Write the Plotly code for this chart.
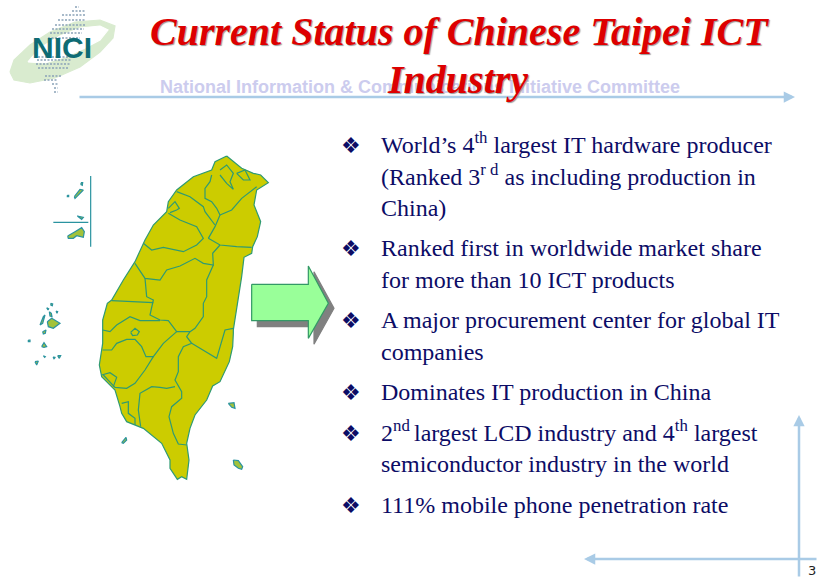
import plotly.graph_objects as go

title_lines = ["Current Status of Chinese Taipei ICT", "Industry"]
subtitle = "National Information &amp; Communications Initiative Committee"
logo_text = "NICI"
page_number = "3"

bullet_lines = [
    ["World’s 4<sup>th</sup> largest IT hardware producer",
     "(Ranked 3<sup>r d</sup> as including production in",
     "China)"],
    ["Ranked first in worldwide market share",
     "for more than 10 ICT products"],
    ["A major procurement center for global IT",
     "companies"],
    ["Dominates IT production in China"],
    ["2<sup>nd </sup>largest LCD industry and 4<sup>th</sup> largest",
     "semiconductor industry in the world"],
    ["111% mobile phone penetration rate"],
]
bullet_y = [
    [143, 175, 208],
    [248, 280],
    [320, 352],
    [392],
    [431, 464],
    [505],
]

# logo, in page pixels
logo_outer_x = [10, 14, 30, 50, 75, 100, 115, 113, 100, 80, 55, 30, 14]
logo_outer_y = [72, 60, 45, 32, 22, 20, 26, 38, 52, 67, 78, 83, 80]
logo_inner_x = [28, 40, 60, 80, 100, 108, 100, 85, 65, 45]
logo_inner_y = [62, 48, 36, 28, 26, 30, 40, 48, 57, 63]
logo_row_y = [7, 11, 15, 20, 25, 29, 33, 38, 57, 60, 64, 68, 76, 80, 84, 88, 92]
logo_row_x0 = [75, 72, 62, 58, 55, 52, 50, 48, 38, 37, 36, 38, 45, 44, 52, 54, 54]
logo_row_x1 = [79, 85, 86, 85, 86, 84, 82, 80, 75, 72, 70, 68, 62, 58, 58, 58, 58]

# the map is traced in its own units, see xaxis2 / yaxis2
island_x = [620, 640, 665, 700, 722, 745, 710, 702, 722, 712, 698, 695, 672, 665, 650,
            640, 640, 638, 628, 600, 578, 560, 525, 510, 500, 507, 500, 485, 472, 450,
            450, 425, 370, 345, 320, 305, 300, 285, 245, 238, 248, 248, 262, 275, 310,
            345, 375, 400, 440, 445, 470, 520, 575, 585]
island_y = [48, 65, 85, 100, 105, 128, 150, 195, 245, 290, 320, 340, 352, 410, 500,
            570, 580, 620, 665, 725, 738, 780, 825, 865, 910, 960, 1018, 1010, 1018, 985,
            960, 910, 865, 855, 845, 820, 800, 750, 710, 675, 610, 540, 490, 480, 420,
            365, 300, 255, 215, 185, 150, 110, 90, 65]

county_borders = [
    ([575, 570, 555, 555, 575, 590, 600, 585, 565],
     [105, 125, 145, 175, 185, 205, 225, 260, 295]),
    ([470, 510, 550, 555, 585], [155, 170, 200, 215, 255]),
    ([445, 480, 530, 550, 530, 490, 430, 395, 370],
     [220, 240, 260, 295, 315, 335, 322, 330, 310]),
    ([600, 635, 665, 710], [225, 210, 175, 140]),
    ([565, 600, 650, 695], [295, 315, 320, 322]),
    ([600, 578, 580, 550, 525, 480, 440, 420, 375, 345],
     [315, 340, 375, 370, 355, 378, 390, 420, 415, 370]),
    ([580, 560, 560, 550, 550, 525, 510],
     [375, 420, 470, 490, 530, 565, 575]),
    ([375, 380, 400, 390, 420, 445, 470, 510],
     [415, 470, 480, 525, 540, 542, 575, 575]),
    ([275, 340, 400], [482, 485, 488]),
    ([248, 270, 290, 330, 360, 420], [570, 575, 555, 530, 542, 542]),
    ([248, 275, 290, 320, 345, 365, 378, 400, 430, 470],
     [630, 630, 610, 598, 598, 620, 650, 650, 610, 575]),
    ([510, 500, 515, 490, 475, 475, 465, 485, 485, 455, 447, 460, 475, 500],
     [575, 590, 610, 620, 650, 695, 720, 755, 775, 800, 830, 880, 912, 915]),
    ([515, 590, 615, 640], [610, 655, 570, 565]),
    ([400, 375, 345, 320, 285, 250], [650, 690, 730, 745, 742, 705]),
    ([245, 270, 290, 280], [705, 698, 712, 740]),
    ([465, 440, 420, 395, 360, 355, 362], [740, 745, 742, 740, 760, 810, 860]),
    ([305, 325, 325, 345, 345], [790, 785, 820, 835, 855]),
    # Taipei city, Keelung, Chiayi
    ([600, 620, 640, 630, 640, 620, 600], [90, 75, 100, 125, 148, 130, 105]),
    ([650, 675, 690, 670, 650], [100, 90, 120, 120, 100]),
    ([332, 345, 358, 352, 338, 332], [577, 565, 575, 585, 587, 577]),
    ([445, 465, 478, 470, 450], [205, 185, 205, 210, 218]),
]

small_islands = [
    # Matsu
    ([163, 172, 180, 190, 178, 165], [170, 158, 148, 150, 162, 175]),
    ([183, 188, 187, 183], [128, 128, 136, 134]),
    ([142, 146, 146, 142], [166, 166, 170, 170]),
    # Wuqiu
    ([172, 190, 185], [228, 232, 238]),
    # Kinmen
    ([143, 155, 165, 185, 193, 190, 170, 160, 145], [288, 280, 275, 263, 275, 292, 287, 295, 295]),
    # Penghu
    ([82, 95, 120, 100, 85], [545, 535, 550, 565, 560]),
    ([60, 70, 75, 68], [555, 530, 525, 550]),
    ([92, 98, 97, 93], [490, 492, 497, 496]),
    ([80, 86, 84], [503, 506, 510]),
    ([108, 113, 111], [513, 515, 520]),
    ([88, 94, 96, 90], [515, 520, 530, 528]),
    ([68, 78, 76, 70], [575, 570, 580, 582]),
    ([25, 30, 30, 25], [600, 600, 605, 605]),
    ([65, 72, 80, 72], [620, 608, 620, 622]),
    ([45, 55, 50], [665, 663, 675]),
    ([113, 122, 118], [647, 647, 655]),
    ([99, 106, 102], [651, 652, 656]),
    ([70, 76, 74], [647, 650, 652]),
    # Xiaoliuqiu, Green Island, Orchid Island
    ([305, 318, 320, 310], [908, 892, 900, 910]),
    ([625, 642, 645, 635], [790, 788, 805, 802]),
    ([640, 655, 668, 665, 655, 642], [960, 962, 980, 988, 985, 975]),
]

divider_x = [[212, 212], [100, 205]]
divider_y = [[108, 320], [247, 247]]

arrow_x = [695, 865, 865, 925, 865, 865, 695]
arrow_y = [433, 433, 378, 490, 595, 542, 542]
shadow_x = [712, 882, 882, 942, 882, 882, 712]
shadow_y = [450, 450, 395, 505, 613, 560, 560]

NAVY = "#0c0c66"
SERIF = "Liberation Serif"
RULE = "#a9cbe6"
BORDER = "#2f9a72"

fig = go.Figure()


def poly(x, y, fill, line=None, width=1.2, axes="x2"):
    fig.add_trace(
        go.Scatter(
            x=x + x[:1],
            y=y + y[:1],
            mode="lines",
            fill="toself",
            fillcolor=fill,
            line=dict(color=line or fill, width=width),
            hoverinfo="skip",
            xaxis=axes,
            yaxis=axes.replace("x", "y"),
        )
    )


# logo
poly(logo_outer_x, logo_outer_y, "#d9ebcf", axes="x")
poly(logo_inner_x, logo_inner_y, "#ffffff", axes="x")
row_x, row_y = [], []
for y, x0, x1 in zip(logo_row_y, logo_row_x0, logo_row_x1):
    row_x += [x0, x1, None]
    row_y += [y, y, None]
fig.add_trace(
    go.Scatter(x=row_x, y=row_y, mode="lines", hoverinfo="skip",
               line=dict(color="#8aa3b8", width=1.6, dash="2px,1.5px"))
)

# map
poly(island_x, island_y, "#cccc00", BORDER)
for bx, by in county_borders:
    fig.add_trace(
        go.Scatter(x=bx, y=by, mode="lines", hoverinfo="skip",
                   line=dict(color=BORDER, width=1.2), xaxis="x2", yaxis="y2")
    )
for ix, iy in small_islands:
    poly(ix, iy, "#a3c23a", "#2a93a0")
for dx, dy in zip(divider_x, divider_y):
    fig.add_trace(
        go.Scatter(x=dx, y=dy, mode="lines", hoverinfo="skip",
                   line=dict(color="#2a93a0", width=1.2), xaxis="x2", yaxis="y2")
    )

# block arrow
poly(shadow_x, shadow_y, "#808080", axes="x2")
poly(arrow_x, arrow_y, "#99ff99", "#339966")

# rules around the page
for x, y, ax, ay in [(795, 97, 78, 97), (799, 415, 799, 578), (584, 559, 818, 559)]:
    fig.add_annotation(
        x=x, y=y, ax=ax, ay=ay, xref="x", yref="y", axref="x", ayref="y",
        text="", showarrow=True, arrowhead=2, arrowsize=0.9, arrowwidth=2.5, arrowcolor=RULE,
    )


def label(x, y, text, size, color, family=SERIF, xanchor="left"):
    fig.add_annotation(
        x=x, y=y, xref="x", yref="y", text=text, showarrow=False,
        xanchor=xanchor, yanchor="middle", align="left",
        font=dict(family=family, size=size, color=color),
    )


label(62, 47, f"<b>{logo_text}</b>", 30, "#0e6b74", "Liberation Sans", "center")
label(420, 87, f"<b>{subtitle}</b>", 18, "#ccccee", "Liberation Sans", "center")
for line, x, y in zip(title_lines, [459, 457], [31, 79]):
    fig.add_annotation(
        x=x, y=y, xref="x", yref="y", text=f"<b><i>{line}</i></b>",
        showarrow=False, xanchor="center", yanchor="middle",
        font=dict(family=SERIF, size=40, color="#dd0000", shadow="1px 1px 1px #999999"),
    )

for lines, ys in zip(bullet_lines, bullet_y):
    label(339, ys[0] + (2 if "<sup>" in lines[0] else 0), "❖", 22, NAVY, "DejaVu Sans")
    for line, y in zip(lines, ys):
        label(379, y, line, 24, NAVY)

label(812, 570, page_number, 13, "#222222", "DejaVu Sans", "center")

fig.update_layout(
    width=825,
    height=585,
    margin=dict(l=0, r=0, t=0, b=0),
    paper_bgcolor="white",
    plot_bgcolor="white",
    showlegend=False,
    xaxis=dict(range=[0, 825], visible=False, fixedrange=True),
    yaxis=dict(range=[585, 0], visible=False, fixedrange=True),
    xaxis2=dict(range=[-60, 2415], visible=False, overlaying="x", fixedrange=True),
    yaxis2=dict(range=[1335, -420], visible=False, overlaying="y", fixedrange=True),
)

fig.write_html(
    "out.html",
    config={"displayModeBar": False},
    post_script="document.body.style.margin='0';",
)
